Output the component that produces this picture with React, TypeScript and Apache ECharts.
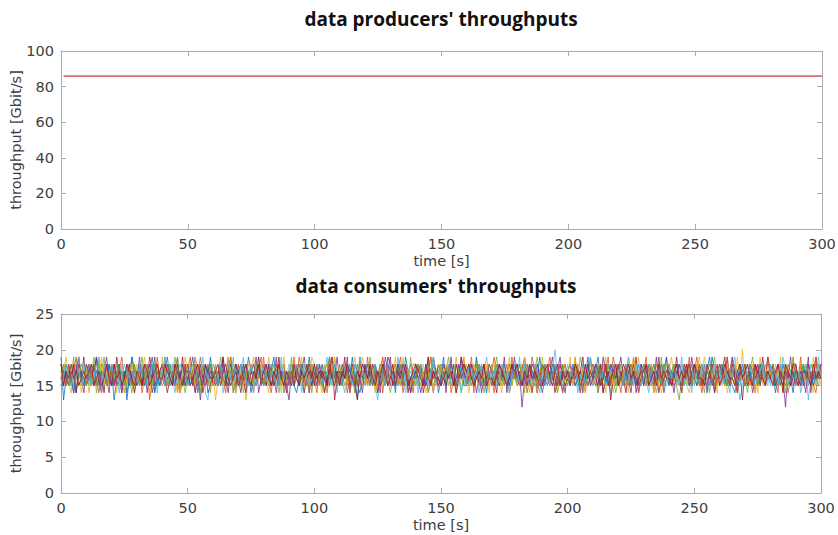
import React, { useEffect, useRef } from "react";
import * as echarts from "echarts";

// time axis ticks [s]
const timeTicks = [0, 50, 100, 150, 200, 250, 300];

// data producers' throughput [Gbit/s]
const producerTimes = [1, 300];
const producerValues = [85.9, 85.9];

// data consumers' throughput [Gbit/s], one sample per second (t = 0..300)
const consumer1 = [
  19,13,16,17,15,18,16,17,16,15, 17,18,16,15,17,16,18,17,15,16, 17,13,16,18,15,17,13,16,17,15,
  16,18,17,15,16,17,19,16,15,17, 16,15,17,18,16,17,15,16,18,17, 15,16,17,19,16,15,17,16,18,16,
  17,15,16,18,17,16,15,17,16,18, 16,17,15,16,19,17,16,15,17,16, 18,16,17,15,16,17,18,16,15,17,
  16,18,17,16,15,17,16,18,17,15, 17,16,15,18,16,17,19,16,17,15, 16,17,18,16,15,17,16,13,17,16,
  18,15,17,16,18,16,15,17,16,18, 17,16,15,17,18,16,17,15,16,17, 16,18,17,16,15,17,16,19,17,16,
  15,17,16,18,17,15,16,17,18,16, 17,15,16,17,16,18,15,17,16,17, 16,17,18,15,16,17,16,15,18,17,
  15,16,17,16,18,17,16,15,17,16, 18,16,15,17,16,18,17,16,14,17, 16,17,16,18,15,17,16,17,15,16,
  17,18,16,15,17,16,18,16,17,15, 16,17,15,16,18,17,16,15,17,18, 17,16,18,15,16,17,16,18,17,16,
  15,17,16,17,18,16,15,17,16,17, 16,18,17,15,16,17,19,16,15,17, 17,16,15,18,17,16,17,15,16,18,
  16,17,16,15,17,18,16,17,15,16, 18,16,17,16,15,17,16,18,17,16, 17,15,16,17,18,16,17,15,16,17,
  16,
];
const consumer2 = [
  16,17,15,18,16,14,17,19,16,15, 18,16,17,15,19,16,14,17,16,18, 15,17,16,18,14,16,17,15,19,16,
  17,15,18,16,17,13,16,18,15,17, 16,19,15,17,16,18,14,16,17,15, 18,16,17,14,16,19,17,15,16,18,
  15,17,16,18,15,16,17,19,14,16, 17,16,18,15,17,16,14,17,18,16, 19,15,16,17,15,18,16,17,14,16,
  17,18,15,16,19,17,16,15,17,18, 16,14,17,16,18,15,17,16,19,15, 17,16,18,14,16,17,15,18,16,17,
  15,19,16,17,15,16,18,14,17,16, 18,16,15,17,19,16,17,15,16,14, 17,15,18,16,17,14,16,19,15,17,
  16,18,15,17,16,18,14,16,17,19, 15,16,17,14,18,16,17,15,16,18, 17,19,16,15,17,16,18,14,16,17,
  16,15,18,17,14,16,19,17,15,16, 18,16,17,15,16,18,15,17,14,16, 17,18,16,19,15,17,16,14,18,16,
  15,17,14,16,18,15,17,16,19,17, 16,14,17,18,16,15,19,16,17,15, 18,16,15,17,14,16,17,18,15,19,
  16,17,18,15,16,14,17,16,18,15, 17,19,16,14,17,16,15,18,16,17, 15,16,18,17,15,19,16,14,17,16,
  18,15,17,16,14,17,18,16,15,19, 16,17,15,18,16,15,17,14,16,18, 17,16,19,15,17,18,16,15,14,17,
  16,
];
const consumer3 = [
  17,15,18,16,14,17,16,19,15,16, 18,14,16,17,15,19,16,18,15,17, 16,17,14,18,16,15,17,16,19,14,
  17,16,18,15,17,14,16,18,16,15, 19,16,15,17,18,16,14,17,15,18, 16,17,15,19,16,14,17,16,18,15,
  17,13,16,18,15,17,16,19,14,16, 15,18,17,13,16,17,19,15,16,18, 17,16,14,18,16,15,17,16,19,15,
  16,18,15,17,16,19,14,17,16,18, 15,17,16,14,18,16,17,15,19,16, 18,15,17,16,15,18,14,16,17,19,
  16,17,15,18,16,14,17,19,15,16, 17,16,19,15,17,16,18,14,16,17, 15,18,16,17,14,16,19,17,15,16,
  17,16,18,15,16,17,14,18,16,19, 16,14,17,16,19,15,17,16,18,15, 17,18,15,16,14,17,16,19,15,17,
  16,15,18,17,16,14,17,16,18,15, 19,16,17,15,18,16,14,17,16,18, 15,17,16,19,15,17,16,14,18,16,
  17,16,18,15,16,19,15,17,14,16, 18,15,17,16,14,17,18,16,19,15, 16,17,15,18,16,15,17,14,16,18,
  17,19,16,15,17,16,18,15,14,17, 16,18,15,17,19,16,14,17,16,15, 18,16,17,14,16,18,15,17,16,20,
  15,17,16,18,14,16,19,15,17,16, 17,15,18,16,17,14,16,18,15,19, 16,17,15,17,18,16,15,19,16,17,
  15,
];
const consumer4 = [
  15,17,16,18,16,15,17,19,16,14, 17,16,15,18,17,16,14,17,19,16, 18,15,17,16,14,17,16,18,15,17,
  16,19,15,17,16,18,14,16,17,15, 17,16,18,15,16,17,19,14,16,18, 15,17,16,14,17,13,16,18,15,17,
  16,18,15,17,19,16,14,17,16,18, 17,15,16,18,15,17,16,19,14,16, 18,16,17,15,16,14,17,16,18,15,
  13,17,16,18,15,17,19,16,14,17, 16,18,15,17,16,14,17,18,16,19, 15,17,16,18,14,16,17,15,19,16,
  17,16,18,15,17,16,14,18,16,17, 19,15,17,16,18,15,16,17,14,16, 17,18,16,15,17,19,16,14,17,16,
  15,17,14,18,16,17,15,16,19,17, 16,15,18,17,14,16,18,15,17,16, 18,16,17,15,16,19,14,17,16,18,
  16,17,12,16,18,15,17,16,14,17, 15,18,16,17,19,16,15,17,16,14, 17,16,18,15,16,17,14,18,16,19,
  16,15,17,18,14,16,17,15,18,16, 17,19,16,15,17,16,18,14,16,17, 15,17,16,18,15,19,16,17,14,16,
  18,16,14,17,16,15,17,18,16,19, 16,17,15,16,18,14,17,16,15,17, 17,18,16,19,15,17,16,14,18,16,
  15,16,17,14,16,18,15,17,16,19, 17,15,16,18,17,16,12,17,15,16, 18,16,17,15,16,19,14,17,16,18,
  17,
];
const consumer5 = [
  16,18,15,17,16,19,14,17,16,15, 17,15,16,18,14,16,17,19,15,16, 18,16,17,15,17,14,16,18,16,17,
  15,17,19,16,15,17,16,14,18,16, 17,16,15,18,16,17,19,15,16,14, 16,18,17,15,16,14,17,16,18,15,
  17,15,16,19,17,16,15,18,14,16, 18,16,14,17,16,15,17,16,19,17, 15,17,16,18,15,17,14,16,17,16,
  16,19,15,17,16,18,16,15,17,14, 17,16,18,15,14,17,16,19,16,15, 16,17,15,16,18,16,14,17,15,18,
  17,15,19,16,17,15,16,18,17,16, 14,16,17,18,15,16,17,15,19,16, 17,18,16,15,17,14,16,17,16,18,
  16,15,17,19,16,17,15,16,14,17, 18,16,15,17,16,18,17,14,16,15, 16,17,19,16,15,17,16,18,15,17,
  15,16,17,14,18,16,15,17,19,16, 17,18,16,15,17,16,14,16,18,15, 16,15,17,18,16,19,17,15,16,17,
  18,16,14,17,15,16,18,17,16,14, 16,17,15,16,19,15,17,16,18,17, 15,18,16,17,16,14,16,19,15,16,
  17,16,18,15,13,16,15,17,16,18, 16,15,17,16,14,18,16,17,19,15, 18,17,16,15,17,16,18,15,16,17,
  16,14,17,19,16,15,17,16,18,16, 17,16,15,17,18,16,14,17,16,19, 15,17,16,18,16,17,15,16,18,16,
  17,
];
const consumer6 = [
  17,16,18,15,17,14,16,19,17,15, 16,18,15,17,16,19,14,16,17,18, 15,17,16,14,18,16,17,15,19,16,
  17,15,18,16,15,17,16,18,14,17, 16,19,17,15,16,14,17,16,18,15, 18,16,15,17,16,17,19,14,13,16,
  17,15,16,18,14,16,17,16,19,15, 16,17,19,15,17,16,14,18,16,17, 15,16,17,18,16,15,17,19,14,16,
  18,17,15,16,17,14,16,18,15,17, 16,15,18,17,16,19,15,16,17,14, 17,16,14,16,18,15,17,16,19,16,
  15,18,16,17,15,13,16,17,18,15, 17,16,15,19,16,17,14,16,18,17, 16,14,17,16,18,15,17,19,16,15,
  18,16,17,15,16,17,15,18,14,16, 17,15,16,18,17,14,16,17,19,16, 15,17,18,16,15,17,16,14,17,18,
  16,19,15,17,16,18,17,15,16,14, 17,16,18,15,17,20,16,17,15,16, 18,15,16,17,14,16,18,16,17,19,
  16,17,15,18,16,15,17,14,16,17, 15,18,17,16,19,17,16,15,18,16, 17,16,14,17,15,16,18,17,16,15,
  16,17,18,15,16,19,15,16,17,14, 18,15,16,17,18,16,14,17,16,17, 16,17,15,16,14,17,19,16,13,15,
  17,16,18,15,17,16,15,18,16,17, 15,18,16,17,16,19,17,15,16,18, 16,17,14,16,18,13,16,17,15,19,
  16,
];
const consumer7 = [
  18,16,17,15,16,18,14,17,16,19, 15,17,16,18,15,16,17,14,18,16, 17,15,19,16,17,15,16,18,16,14,
  16,18,15,17,16,19,17,15,16,17, 18,16,14,16,17,15,18,16,19,15, 16,17,15,18,16,17,14,16,17,18,
  15,16,17,16,19,15,17,18,16,15, 17,18,16,14,17,16,15,17,18,16, 16,15,18,17,15,16,19,16,17,14,
  17,16,15,18,16,17,15,18,16,17, 15,18,16,17,14,16,17,19,13,16, 17,16,19,15,16,18,15,13,17,16,
  16,17,15,18,17,14,16,17,15,19, 18,15,17,16,15,17,18,16,14,16, 16,17,18,14,16,19,15,17,16,18,
  17,16,15,17,18,16,14,16,19,15, 15,18,16,16,17,15,17,18,16,17, 17,16,14,18,16,17,15,16,18,16,
  16,15,17,19,15,16,18,17,14,17, 18,17,16,15,17,14,16,18,16,15, 16,15,18,17,16,17,19,15,17,16,
  17,16,15,18,14,16,17,13,16,18, 15,17,16,14,17,18,16,19,15,16, 16,18,17,16,15,17,14,16,18,17,
  17,15,16,19,16,15,18,17,16,15, 18,16,17,15,17,16,15,18,14,16, 16,17,19,16,15,18,17,16,17,13,
  17,15,16,17,18,15,16,19,16,17, 16,18,15,16,17,14,18,16,15,17, 15,16,18,17,16,17,15,16,19,16,
  18,
];
const consumer8 = [
  16,15,18,17,16,14,18,16,17,15, 18,17,15,16,19,16,17,15,16,18, 15,16,17,18,15,17,14,16,19,17,
  17,18,16,15,17,16,18,14,16,15, 16,17,19,16,15,18,16,17,15,17, 18,15,16,17,14,16,17,18,16,19,
  16,17,15,18,16,15,19,16,17,14, 17,16,18,16,17,14,16,15,18,16, 15,18,16,17,19,16,15,17,16,17,
  16,17,15,14,16,18,17,16,19,16, 18,16,17,15,17,16,15,18,16,17, 16,15,18,17,16,19,16,15,14,16,
  17,18,16,15,18,16,17,16,15,17, 16,17,14,18,16,15,19,17,16,15, 18,16,17,16,15,17,16,18,17,14,
  16,19,15,17,16,18,15,17,16,18, 17,16,18,15,19,16,17,16,14,17, 15,17,16,17,16,18,16,15,17,16,
  18,16,15,18,17,16,14,17,16,19, 16,15,17,16,18,17,16,15,18,16, 17,18,16,15,16,14,17,16,19,15,
  16,17,19,16,17,16,15,18,16,17, 18,16,15,17,15,16,17,16,14,16, 16,15,17,16,18,17,16,15,17,19,
  15,17,16,18,16,14,17,16,15,16, 17,16,18,16,15,17,16,19,17,16, 16,18,15,17,16,15,14,16,18,17,
  18,16,17,15,17,16,18,16,15,16, 16,17,14,16,15,18,16,17,16,14, 17,15,16,18,16,17,16,15,17,16,
  16,
];
const consumer9 = [
  17,16,15,18,16,17,19,15,16,17, 16,18,17,15,16,14,17,16,18,15, 18,15,16,17,19,16,15,17,16,18,
  16,17,14,16,18,15,17,16,19,16, 15,16,18,17,15,16,17,14,16,18, 17,19,16,15,18,17,16,15,17,16,
  16,15,17,18,16,14,17,19,16,15, 18,16,15,17,16,18,16,15,17,19, 15,17,16,14,17,16,18,17,15,16,
  17,16,19,16,15,17,16,18,14,17, 16,18,15,17,16,15,19,16,17,16, 15,16,17,18,14,17,16,15,18,17,
  17,15,16,16,18,16,17,19,16,15, 16,17,18,15,17,14,16,17,15,18, 18,16,15,17,16,17,19,16,17,16,
  15,17,16,18,14,16,15,17,16,18, 17,16,19,15,16,17,16,18,15,17, 16,14,17,16,18,15,17,16,19,16,
  17,18,16,15,17,16,14,18,16,17, 15,16,17,19,16,17,16,15,17,18, 16,17,15,16,18,14,17,16,15,17,
  18,16,17,15,16,17,19,15,17,16, 15,17,16,18,17,16,15,17,14,16, 17,19,15,16,17,18,16,15,16,17,
  16,15,17,18,16,14,17,16,19,15, 17,16,18,15,17,16,15,18,16,17, 15,17,16,19,15,17,16,14,17,16,
  18,16,15,17,16,18,17,16,15,19, 16,17,16,14,18,16,15,17,16,18, 17,15,18,16,17,15,17,16,19,16,
  17,
];
const consumer10 = [
  15,17,19,16,17,15,16,18,14,16, 17,16,15,17,18,16,19,15,17,16, 16,18,16,15,17,14,16,17,18,15,
  18,15,17,19,16,16,15,17,16,17, 16,17,15,16,18,17,16,14,17,19, 17,16,18,15,16,15,17,16,15,16,
  15,18,16,17,15,17,19,16,17,14, 16,17,15,16,18,16,15,17,16,18, 17,16,19,15,16,17,16,14,18,16,
  15,17,16,18,17,16,15,17,16,19, 18,16,15,16,17,14,16,18,15,17, 16,17,18,15,16,17,19,16,17,15,
  17,15,16,17,14,16,18,15,16,17, 16,18,17,16,15,19,16,17,15,16, 15,16,15,18,16,17,16,14,17,18,
  17,18,16,15,17,16,19,16,15,16, 16,15,17,18,16,15,17,16,18,14, 18,16,17,16,15,17,16,18,17,16,
  15,17,16,19,17,16,15,16,14,17, 17,16,18,15,16,17,18,16,15,16, 16,19,15,17,16,15,17,18,16,17,
  15,16,17,16,18,14,16,17,15,18, 17,18,16,15,16,17,19,16,17,16, 16,15,17,18,14,16,15,17,16,18,
  18,16,16,15,17,18,16,15,17,16, 15,17,19,16,16,15,17,16,18,14, 17,16,15,18,17,16,15,19,16,17,
  16,18,16,15,17,14,16,17,15,16, 17,15,17,16,19,16,18,15,17,16, 15,16,18,17,15,17,16,14,16,18,
  16,
];
const consumer11 = [
  18,17,16,15,17,16,14,18,17,16, 15,16,18,17,19,15,16,17,16,14, 17,18,15,16,17,16,18,15,17,16,
  15,16,17,18,14,17,16,19,15,17, 18,15,16,17,16,15,17,16,18,16, 16,17,19,16,15,18,16,17,14,15,
  17,16,15,17,18,16,15,16,17,18, 16,14,17,16,15,17,18,16,19,16, 17,16,18,15,16,19,15,17,16,17,
  15,17,16,17,18,16,14,16,17,15, 17,15,18,16,17,15,17,16,18,16, 16,18,16,19,15,16,18,17,16,14,
  18,16,17,15,16,17,15,16,19,17, 15,17,16,18,17,16,18,14,16,16, 17,16,14,16,15,18,17,16,17,15,
  16,18,17,16,19,15,16,18,16,17, 15,16,18,17,16,17,14,16,15,18, 17,15,16,18,17,16,15,17,16,19,
  16,17,15,16,15,18,17,16,18,16, 14,16,17,18,16,15,17,19,16,17, 17,15,18,16,17,16,15,16,18,15,
  16,17,16,15,19,17,16,18,17,16, 18,16,15,17,16,14,17,16,15,18, 15,17,18,16,17,16,19,15,16,17,
  17,16,15,16,18,17,16,17,18,16, 16,15,17,18,16,15,17,16,14,17, 18,17,16,15,17,19,16,15,17,16,
  15,16,18,17,16,17,15,18,16,17, 17,18,16,15,17,16,17,16,19,15, 16,15,17,16,14,18,16,17,16,17,
  18,
];
const consumer12 = [
  16,18,17,15,16,17,15,16,18,17, 15,17,16,19,15,18,16,17,15,16, 17,16,18,16,17,15,17,16,14,18,
  16,15,17,16,18,16,15,18,17,16, 18,17,15,16,17,19,16,15,16,17, 15,16,17,18,16,15,18,17,16,14,
  18,17,16,15,16,17,16,15,18,17, 16,15,17,18,17,15,16,18,16,17, 15,17,15,16,18,16,17,15,17,16,
  17,16,18,17,16,15,18,16,15,18, 16,17,16,15,17,18,16,17,16,15, 18,15,17,16,16,17,15,18,17,16,
  16,17,18,15,17,16,18,16,15,17, 17,16,15,17,18,16,15,17,18,16, 15,18,17,16,16,18,17,15,16,17,
  18,16,16,17,15,16,18,17,16,15, 16,17,15,16,18,17,16,15,17,18, 17,15,18,17,16,15,17,18,16,16,
  16,18,16,15,17,18,16,17,15,17, 18,16,17,16,15,16,17,15,18,16, 15,17,16,18,17,16,15,17,16,18,
  17,16,18,15,16,17,18,16,17,15, 16,18,17,16,15,18,16,17,16,17, 18,15,16,17,18,16,17,15,18,16,
  16,17,18,16,15,17,16,18,17,15, 17,16,15,18,16,17,18,16,15,17, 16,18,17,15,17,16,15,17,18,16,
  15,16,18,17,16,15,17,18,16,17, 17,18,16,16,15,17,16,15,17,18, 16,17,15,18,17,16,18,17,16,15,
  17,
];
const consumer13 = [
  17,16,18,16,15,17,16,17,15,18, 16,17,15,16,18,17,15,18,16,17, 18,16,17,15,16,18,17,16,17,15,
  16,18,16,17,15,16,18,17,15,16, 17,15,17,16,18,15,16,18,17,16, 15,17,18,16,17,16,15,17,16,18,
  17,16,15,18,16,17,18,16,15,17, 16,18,17,16,15,18,16,15,17,16, 18,16,15,17,16,17,15,18,16,17,
  16,15,17,18,17,16,18,16,15,16, 17,18,16,15,16,17,16,15,18,17, 15,16,17,18,17,15,18,16,16,17,
  16,17,15,16,18,17,16,17,15,18, 18,16,17,15,16,18,15,16,17,16, 16,15,18,17,16,15,17,18,16,17,
  17,16,16,18,15,17,16,15,18,16, 15,18,17,16,17,16,18,16,15,17, 16,17,15,16,18,17,15,17,16,18,
  18,15,17,18,16,15,16,18,17,16, 16,17,16,15,17,18,17,16,15,17, 17,16,18,17,15,16,18,15,17,16,
  15,18,16,16,17,15,16,17,18,17, 17,16,15,18,16,17,15,18,16,15, 16,17,18,15,17,16,18,16,17,18,
  18,16,17,16,15,18,16,15,16,17, 15,17,16,18,17,16,15,17,18,16, 17,15,18,16,16,17,18,16,15,17,
  16,18,16,17,15,16,17,18,16,15, 18,16,17,15,18,17,16,15,17,16, 16,17,15,17,16,15,18,17,16,18,
  16,
];
const consumer14 = [
  18,15,17,16,18,16,17,15,16,17, 16,17,18,15,16,17,15,16,18,16, 15,18,16,17,15,16,18,17,16,15,
  17,16,15,18,17,15,16,17,18,16, 16,18,17,16,15,18,17,16,15,17, 17,15,16,17,18,16,15,18,17,16,
  16,17,18,15,17,18,16,15,16,17, 15,16,17,18,16,15,17,16,18,15, 17,18,16,15,17,16,18,16,15,17,
  16,15,18,16,15,17,16,17,18,16, 18,16,17,17,16,15,18,16,15,17, 15,17,16,18,17,16,15,17,16,18,
  17,16,18,16,15,17,16,18,17,15, 16,18,15,17,16,18,17,15,16,17, 18,17,16,15,18,16,15,17,16,16,
  15,16,17,16,17,15,18,16,17,18, 17,18,16,15,16,17,16,18,15,16, 16,15,17,18,17,16,15,16,18,17,
  18,16,15,17,16,18,16,17,16,15, 15,17,18,16,15,17,18,15,17,16, 17,16,16,18,17,15,16,18,16,17,
  16,18,17,15,16,18,15,16,17,18, 15,16,18,17,18,16,17,15,16,17, 17,18,15,16,17,15,18,16,17,16,
  16,15,17,18,16,17,16,18,15,17, 18,17,16,16,15,18,17,15,16,18, 15,16,18,17,16,16,15,17,18,16,
  17,18,16,15,18,17,16,16,15,17, 16,15,17,18,16,15,18,17,16,18, 18,16,15,17,17,16,15,18,16,17,
  16,
];

const consumers = [
  consumer1, consumer2, consumer3, consumer4, consumer5, consumer6, consumer7,
  consumer8, consumer9, consumer10, consumer11, consumer12, consumer13, consumer14,
];
const lineColors = ["#0072BD", "#D95319", "#EDB120", "#7E2F8E", "#77AC30", "#4DBEEE", "#A2142F"];

const producerTicks = [0, 20, 40, 60, 80, 100];
const consumerTicks = [0, 5, 10, 15, 20, 25];

const FONT = "DejaVu Sans";
const FS = 14.5;
const LABEL = "#404040";
const FRAME = "#aaaaaa";

export default function App() {
  const ref = useRef<HTMLDivElement>(null);
  useEffect(() => {
    if (!ref.current) return;
    const chart = echarts.init(ref.current, undefined, { renderer: "svg" });

    const grids = [
      { left: 61, top: 51, width: 761, height: 178, outerBoundsMode: "none", containLabel: false },
      { left: 61, top: 314, width: 760, height: 179, outerBoundsMode: "none", containLabel: false },
    ];
    const yRanges = [
      { max: producerTicks[producerTicks.length - 1], interval: producerTicks[1] - producerTicks[0] },
      { max: consumerTicks[consumerTicks.length - 1], interval: consumerTicks[1] - consumerTicks[0] },
    ];

    const xAxes: any[] = [];
    const yAxes: any[] = [];
    grids.forEach((_, gi) => {
      const common = {
        gridIndex: gi,
        type: "value",
        min: timeTicks[0],
        max: timeTicks[timeTicks.length - 1],
        interval: timeTicks[1] - timeTicks[0],
        splitLine: { show: false },
        axisLine: { show: true, onZero: false, lineStyle: { color: FRAME, width: 1 } },
        axisTick: { show: true, inside: true, length: 5, lineStyle: { color: FRAME } },
      };
      xAxes.push({
        ...common,
        position: "bottom",
        name: "time [s]",
        nameLocation: "middle",
        nameGap: 24,
        nameMoveOverlap: false,
        nameTextStyle: { fontFamily: FONT, fontSize: FS, color: LABEL },
        axisLabel: { fontFamily: FONT, fontSize: FS, color: LABEL, margin: 7 },
      });
      xAxes.push({ ...common, position: "top", axisLabel: { show: false } });
      const yc = {
        gridIndex: gi,
        type: "value",
        min: 0,
        max: yRanges[gi].max,
        interval: yRanges[gi].interval,
        splitLine: { show: false },
        axisLine: { show: true, onZero: false, lineStyle: { color: FRAME, width: 1 } },
        axisTick: { show: true, inside: true, length: 5, lineStyle: { color: FRAME } },
      };
      yAxes.push({
        ...yc,
        position: "left",
        name: "throughput [Gbit/s]",
        nameLocation: "middle",
        nameGap: 38,
        nameMoveOverlap: false,
        nameTextStyle: { fontFamily: FONT, fontSize: FS, color: LABEL },
        axisLabel: { fontFamily: FONT, fontSize: FS, color: LABEL, margin: 7 },
      });
      yAxes.push({ ...yc, position: "right", axisLabel: { show: false } });
    });

    const series: any[] = [
      {
        type: "line",
        xAxisIndex: 0,
        yAxisIndex: 0,
        data: producerTimes.map((t, i) => [t, producerValues[i]]),
        showSymbol: false,
        symbol: "none",
        lineStyle: { color: "#d5707f", width: 1.6 },
      },
    ];
    consumers.forEach((arr, k) => {
      series.push({
        type: "line",
        xAxisIndex: 2,
        yAxisIndex: 2,
        data: arr.map((v, i) => [i, v]),
        showSymbol: false,
        symbol: "none",
        lineStyle: { color: lineColors[k % lineColors.length], width: 0.8 },
      });
    });

    chart.setOption({
      animation: false,
      backgroundColor: "#ffffff",
      title: [
        {
          text: "data producers' throughputs",
          left: 436,
          top: 4,
          textAlign: "center",
          textStyle: { fontFamily: "Open Sans", fontWeight: "bold", fontSize: 19, color: "#111" },
        },
        {
          text: "data consumers' throughputs",
          left: 431,
          top: 271,
          textAlign: "center",
          textStyle: { fontFamily: "Open Sans", fontWeight: "bold", fontSize: 19, color: "#111" },
        },
      ],
      grid: grids,
      xAxis: xAxes,
      yAxis: yAxes,
      series,
    });
    return () => chart.dispose();
  }, []);
  return (
    <div
      ref={ref}
      style={{ position: "fixed", left: 0, top: 0, width: 838, height: 535 }}
    />
  );
}
